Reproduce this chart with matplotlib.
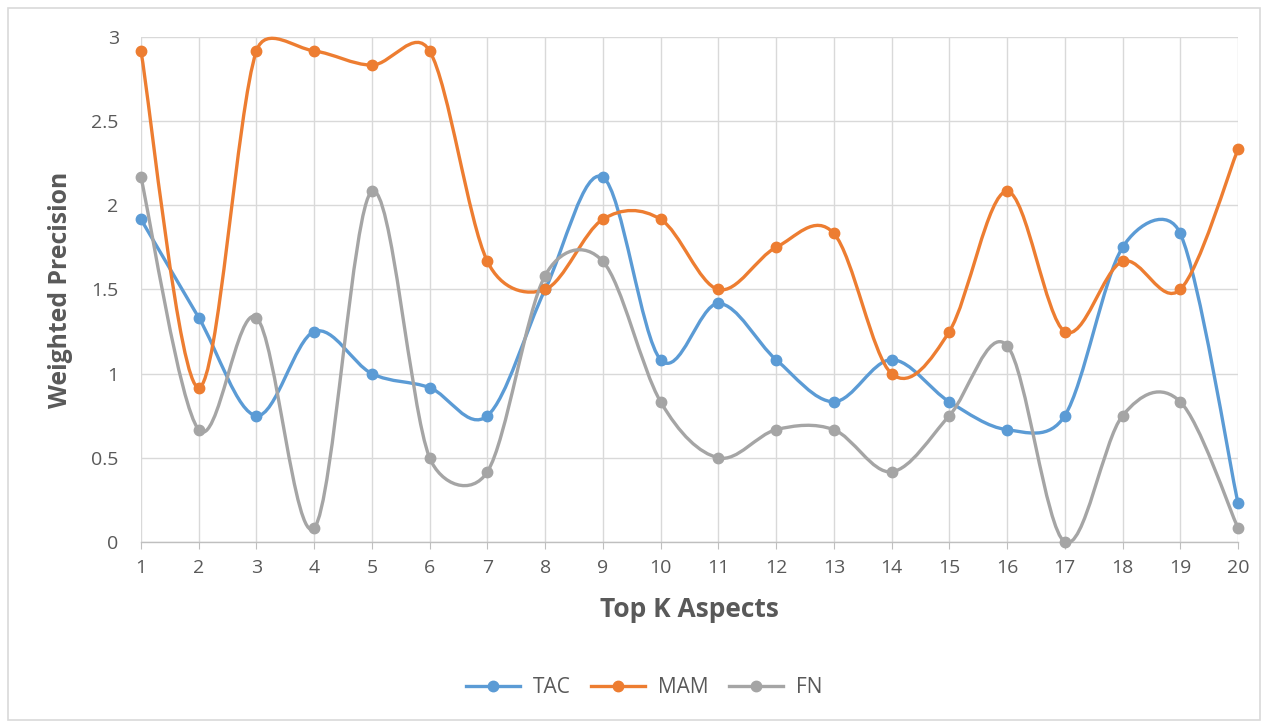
import numpy as np
import matplotlib.pyplot as plt
from matplotlib.path import Path
from matplotlib.patches import PathPatch, Rectangle
from matplotlib.lines import Line2D

k = list(range(1, 21))
tac = [1.917, 1.333, 0.75, 1.25, 1.0, 0.917, 0.75, 1.5, 2.167, 1.083,
       1.417, 1.083, 0.833, 1.083, 0.833, 0.667, 0.75, 1.75, 1.833, 0.23]
mam = [2.917, 0.917, 2.917, 2.917, 2.833, 2.917, 1.667, 1.5, 1.917, 1.917,
       1.5, 1.75, 1.833, 1.0, 1.25, 2.083, 1.25, 1.667, 1.5, 2.333]
fn = [2.167, 0.667, 1.333, 0.083, 2.083, 0.5, 0.417, 1.583, 1.667, 0.833,
      0.5, 0.667, 0.667, 0.417, 0.75, 1.167, 0.0, 0.75, 0.833, 0.083]

series = [('TAC', tac, '#5B9BD5'), ('MAM', mam, '#ED7D31'), ('FN', fn, '#A5A5A5')]
text_col = '#595959'
font = 'Open Sans'


def smooth_path(ax, xs, ys):
    # bezier through each point; tangent (next - prev)/6 in screen space,
    # shortened so a control arm never exceeds half of its segment
    p = ax.transData.transform(np.column_stack([xs, ys]))
    n = len(p)
    verts = [p[0]]
    codes = [Path.MOVETO]
    for i in range(n - 1):
        p0 = p[max(i - 1, 0)]
        p1 = p[i]
        p2 = p[i + 1]
        p3 = p[min(i + 2, n - 1)]
        seg = np.hypot(*(p2 - p1))
        t1 = (p2 - p0) / 6
        t2 = (p3 - p1) / 6
        for t in (t1, t2):
            ln = np.hypot(*t)
            if ln > seg / 2:
                t *= (seg / 2) / ln
        verts += [p1 + t1, p2 - t2, p2]
        codes += [Path.CURVE4] * 3
    verts = ax.transData.inverted().transform(np.array(verts))
    return Path(verts, codes)


fig = plt.figure(figsize=(12.63, 7.24), dpi=100)
fig.patches.append(Rectangle((8 / 1263, 4 / 724), 1252 / 1263, 712 / 724,
                             transform=fig.transFigure, fill=False,
                             edgecolor='#D9D9D9', lw=1.2))

ax = fig.add_axes([0.1116, 0.2514, 0.8686, 0.6975])
ax.set_xlim(1, 20)
ax.set_ylim(0, 3)
ax.set_xticks(k)
ax.set_yticks([0, 0.5, 1, 1.5, 2, 2.5, 3])
ax.set_yticklabels(['0', '0.5', '1', '1.5', '2', '2.5', '3'])
ax.grid(True, color='#D9D9D9', lw=1)
ax.set_axisbelow(True)
for side in ['top', 'right', 'left']:
    ax.spines[side].set_visible(False)
ax.spines['bottom'].set_color('#BFBFBF')
ax.spines['bottom'].set_linewidth(1)
ax.tick_params(axis='x', length=5, color='#BFBFBF', pad=7,
               labelsize=14, labelcolor=text_col)
ax.tick_params(axis='y', length=0, pad=16, labelsize=14, labelcolor=text_col)
for lab in ax.get_xticklabels() + ax.get_yticklabels():
    lab.set_fontfamily(font)

for name, vals, col in series:
    patch = PathPatch(smooth_path(ax, k, vals), facecolor='none', edgecolor=col,
                      lw=2.4, zorder=3, clip_on=False)
    ax.add_patch(patch)
    ax.plot(k, vals, 'o', color=col, markersize=7.5, zorder=4, clip_on=False)

ax.set_xlabel('Top K Aspects', fontsize=19, fontweight='bold', color=text_col,
              fontfamily=font, labelpad=14)
ax.set_ylabel('Weighted Precision', fontsize=17.8, fontweight='bold', color=text_col,
              fontfamily=font)
ax.yaxis.set_label_coords((73 - 141) / 1097, 0.5)

handles = [Line2D([0], [0], color=col, lw=2.4, marker='o', markersize=7.5)
           for _, _, col in series]
leg = fig.legend(handles, [s[0] for s in series], loc='center',
                 bbox_to_anchor=(0.51, 0.05), ncol=3, frameon=False,
                 handlelength=2.6, columnspacing=1.0, handletextpad=0.6,
                 prop={'family': font, 'size': 15})
for t in leg.get_texts():
    t.set_color(text_col)

fig.savefig('out.png', dpi=100)
